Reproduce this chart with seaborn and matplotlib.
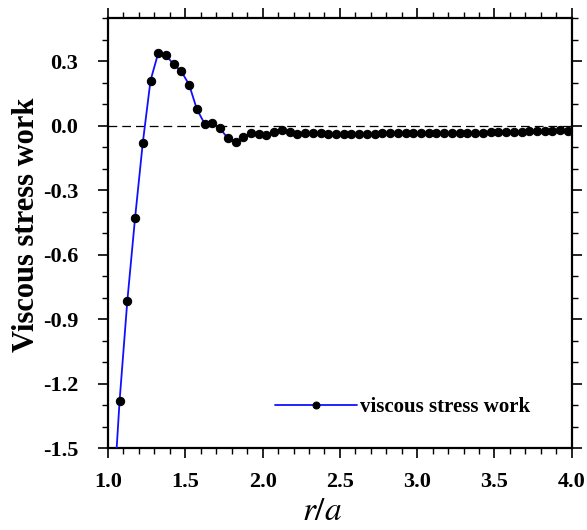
import numpy as np
import pandas as pd
import matplotlib
matplotlib.use("Agg")
import matplotlib.pyplot as plt
import seaborn as sns
from matplotlib.ticker import MultipleLocator

r_over_a = [1.025, 1.075, 1.125, 1.175, 1.225, 1.275, 1.325, 1.375, 1.425, 1.475,
            1.525, 1.575, 1.625, 1.675, 1.725, 1.775, 1.825, 1.875, 1.925, 1.975,
            2.025, 2.075, 2.125, 2.175, 2.225, 2.275, 2.325, 2.375, 2.425, 2.475,
            2.525, 2.575, 2.625, 2.675, 2.725, 2.775, 2.825, 2.875, 2.925, 2.975,
            3.025, 3.075, 3.125, 3.175, 3.225, 3.275, 3.325, 3.375, 3.425, 3.475,
            3.525, 3.575, 3.625, 3.675, 3.725, 3.775, 3.825, 3.875, 3.925, 3.975]
viscous_work = [-1.86, -1.28, -0.815, -0.43, -0.08, 0.21, 0.338, 0.327, 0.285, 0.252,
                0.19, 0.076, 0.009, 0.011, -0.013, -0.059, -0.076, -0.055, -0.034, -0.037,
                -0.042, -0.031, -0.020, -0.028, -0.037, -0.034, -0.034, -0.033, -0.039, -0.039,
                -0.039, -0.039, -0.041, -0.041, -0.037, -0.036, -0.036, -0.036, -0.036, -0.036,
                -0.036, -0.036, -0.036, -0.036, -0.034, -0.034, -0.034, -0.033, -0.033, -0.031,
                -0.030, -0.030, -0.030, -0.028, -0.026, -0.026, -0.026, -0.025, -0.020, -0.023]
series_label = "viscous stress work"
x_ticks = [1.0, 1.5, 2.0, 2.5, 3.0, 3.5, 4.0]
y_ticks = [-1.5, -1.2, -0.9, -0.6, -0.3, 0.0, 0.3]

sns.set_style("ticks")
plt.rcParams['font.family'] = ['Liberation Serif', 'DejaVu Serif']
plt.rcParams['mathtext.fontset'] = 'stix'
plt.rcParams['text.color'] = 'black'
plt.rcParams['axes.labelcolor'] = 'black'
plt.rcParams['xtick.color'] = 'black'
plt.rcParams['ytick.color'] = 'black'

df = pd.DataFrame({"r": r_over_a, "w": viscous_work})

fig = plt.figure(figsize=(5.87, 5.30), dpi=100)
ax = fig.add_axes([0.184, 0.1547, 0.790, 0.811])

ax.axhline(0.0, color="black", lw=0.9, ls=(0, (7, 4)), zorder=1)
sns.lineplot(data=df, x="r", y="w", ax=ax, color="#1010ff", lw=1.3,
             marker="o", markersize=6, markerfacecolor="black",
             markeredgecolor="black", label=series_label, zorder=3)

ax.set_xlim(1.0, 4.0)
ax.set_ylim(-1.5, 0.5)
ax.set_xticks(x_ticks)
ax.set_yticks(y_ticks)
ax.set_xticklabels([f"{v:.1f}" for v in x_ticks])
ax.set_yticklabels([f"{v:.1f}" for v in y_ticks])
ax.xaxis.set_minor_locator(MultipleLocator(0.1))
ax.yaxis.set_minor_locator(MultipleLocator(0.1))

for s in ax.spines.values():
    s.set_visible(True)
    s.set_linewidth(1.6)
    s.set_color("black")

ax.tick_params(which="both", direction="out", top=True, right=True,
               labeltop=False, labelright=False, color="black", labelcolor="black")
ax.tick_params(which="major", length=7.5, width=1.2, labelsize=16)
ax.tick_params(which="minor", length=4, width=1.0)
ax.tick_params(axis="y", which="major", pad=14)
ax.tick_params(axis="x", which="major", pad=10)
for lab in ax.get_xticklabels() + ax.get_yticklabels():
    lab.set_fontweight("bold")

ax.set_xlabel("$r/a$", fontsize=24, color="black")
ax.xaxis.set_label_coords(0.461, -0.113)
ax.set_ylabel("Viscous stress work", fontsize=22, fontweight="bold", color="black")
ax.yaxis.set_label_coords(-0.145, 0.519)

leg = ax.legend(loc="center left", bbox_to_anchor=(0.343, 0.095), frameon=False,
                handlelength=3.94, handletextpad=0.1, borderaxespad=0,
                prop={"family": "Liberation Serif", "weight": "bold", "size": 15})
for t in leg.get_texts():
    t.set_color("black")
for h in leg.get_lines():
    h.set_markersize(5)

fig.savefig("out.png", dpi=100)
